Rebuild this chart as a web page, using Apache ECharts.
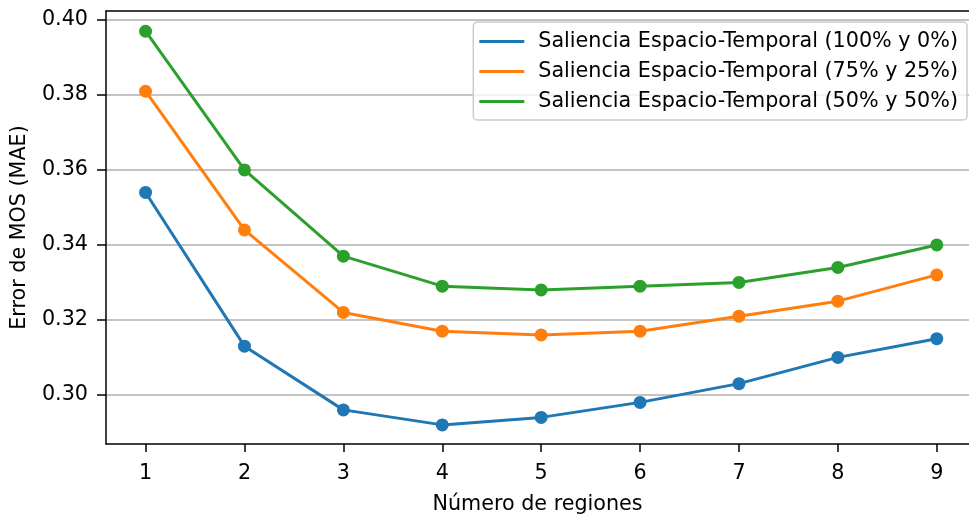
<!DOCTYPE html>
<html><head><meta charset="utf-8">
<script src="https://cdn.jsdelivr.net/npm/echarts@6/dist/echarts.min.js"></script>
<style>html,body{margin:0;padding:0;background:#fff}#c{width:969px;height:516px}</style>
</head><body><div id="c"></div>
<script>
const regions = [1, 2, 3, 4, 5, 6, 7, 8, 9];
const xTicks = [1, 2, 3, 4, 5, 6, 7, 8, 9];
const yTicks = [0.30, 0.32, 0.34, 0.36, 0.38, 0.40];
const names = [
  'Saliencia Espacio-Temporal (100% y 0%)',
  'Saliencia Espacio-Temporal (75% y 25%)',
  'Saliencia Espacio-Temporal (50% y 50%)'
];
const s100_0 = [0.354, 0.313, 0.296, 0.292, 0.294, 0.298, 0.303, 0.310, 0.315];
const s75_25 = [0.381, 0.344, 0.322, 0.317, 0.316, 0.317, 0.321, 0.325, 0.332];
const s50_50 = [0.397, 0.360, 0.337, 0.329, 0.328, 0.329, 0.330, 0.334, 0.340];
const colors = ['#1f77b4', '#ff7f0e', '#2ca02c'];
const seriesVals = [s100_0, s75_25, s50_50];

const font = 'DejaVu Sans';
const fs = 20.7;
const chart = echarts.init(document.getElementById('c'), null, {renderer: 'canvas'});
chart.setOption({
  animation: false,
  backgroundColor: '#fff',
  grid: {left: 106, top: 11, right: 0, bottom: 72, show: false, outerBoundsMode: 'none', containLabel: false},
  xAxis: [{
    type: 'value', min: 0.6, max: 9.326,
    name: 'Número de regiones', nameLocation: 'middle', nameGap: 50,
    nameTextStyle: {fontFamily: font, fontSize: fs, color: '#000'},
    axisLine: {show: true, onZero: false, lineStyle: {color: '#000', width: 1.5}},
    axisTick: {show: true, length: 8, customValues: xTicks, lineStyle: {color: '#000', width: 1.5}},
    axisLabel: {customValues: xTicks, margin: 19, fontFamily: font, fontSize: fs, color: '#000'},
    splitLine: {show: false}
  }, {
    type: 'value', min: 0.6, max: 9.326, position: 'top',
    axisLine: {show: true, onZero: false, lineStyle: {color: '#000', width: 1.5}},
    axisTick: {show: false}, axisLabel: {show: false}, splitLine: {show: false}
  }],
  yAxis: {
    type: 'value', min: 0.2869, max: 0.4024,
    name: 'Error de MOS (MAE)', nameLocation: 'middle', nameGap: 76,
    nameTextStyle: {fontFamily: font, fontSize: fs, color: '#000'},
    axisLine: {show: true, onZero: false, lineStyle: {color: '#000', width: 1.5}},
    axisTick: {show: true, length: 9, customValues: yTicks, lineStyle: {color: '#000', width: 1.5}},
    axisLabel: {customValues: yTicks, margin: 18, fontFamily: font, fontSize: fs, color: '#000',
      formatter: v => v.toFixed(2)},
    splitLine: {show: true, lineStyle: {color: '#b0b0b0', width: 1.5}}
  },
  legend: {
    orient: 'vertical', right: 2, top: 22,
    backgroundColor: 'rgba(255,255,255,0.8)', borderColor: '#cccccc', borderWidth: 1.5, borderRadius: 4,
    padding: [9, 9, 8, 6],
    itemWidth: 45, itemHeight: 3, itemGap: 9, icon: 'rect',
    textStyle: {fontFamily: font, fontSize: fs, color: '#000', padding: [0, 0, 0, 9]},
    data: names
  },
  series: names.map((n, i) => ({
    name: n, type: 'line',
    data: regions.map((r, j) => [r, seriesVals[i][j]]),
    color: colors[i],
    lineStyle: {width: 3, color: colors[i]},
    symbol: 'circle', symbolSize: 13,
    itemStyle: {color: colors[i]},
    clip: false
  }))
});
</script></body></html>
